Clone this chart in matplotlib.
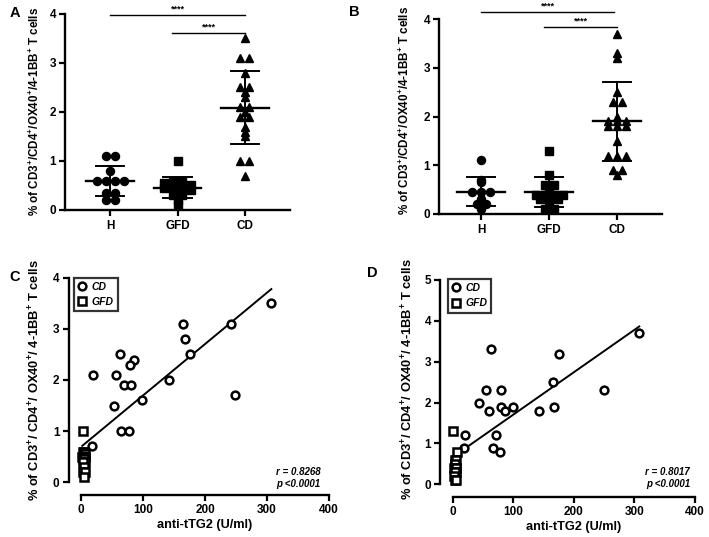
import numpy as np
import matplotlib
matplotlib.use("Agg")
import matplotlib.pyplot as plt

plt.rcParams['font.family'] = ['Liberation Sans', 'DejaVu Sans']
plt.rcParams['font.weight'] = 'bold'
plt.rcParams['mathtext.fontset'] = 'custom'
plt.rcParams['mathtext.rm'] = 'Liberation Sans:bold'
plt.rcParams['mathtext.bf'] = 'Liberation Sans:bold'
plt.rcParams['mathtext.it'] = 'Liberation Sans:bold:italic'

# ---------------- data ----------------
groups = ["H", "GFD", "CD"]

A_H = [1.1, 1.1, 0.8, 0.6, 0.6, 0.6, 0.6, 0.35, 0.35, 0.2, 0.2]
A_GFD = [1.0, 0.6, 0.6, 0.55, 0.5, 0.5, 0.5, 0.45, 0.45, 0.4, 0.4, 0.3, 0.3, 0.2, 0.1]
A_CD = [3.5, 3.1, 3.1, 2.8, 2.5, 2.5, 2.4, 2.3, 2.1, 2.1, 2.0, 1.9, 1.9,
        1.7, 1.6, 1.5, 1.0, 1.0, 0.7]

B_H = [1.1, 0.7, 0.65, 0.45, 0.45, 0.45, 0.3, 0.2, 0.2, 0.1]
B_GFD = [1.3, 0.8, 0.6, 0.6, 0.5, 0.4, 0.4, 0.4, 0.4, 0.3, 0.3, 0.3, 0.2, 0.1, 0.1]
B_CD = [3.7, 3.3, 3.2, 2.5, 2.3, 2.3, 2.0, 1.9, 1.9, 1.9, 1.8, 1.8, 1.8,
        1.5, 1.2, 1.2, 1.2, 0.9, 0.9, 0.8]

C_cd_tTG2 = [307, 164, 242, 167, 63, 175, 85, 79, 20, 57, 142, 69, 81, 54, 98, 249, 64, 77, 18]
C_cd_cells = [3.5, 3.1, 3.1, 2.8, 2.5, 2.5, 2.4, 2.3, 2.1, 2.1, 2.0, 1.9, 1.9, 1.5, 1.6, 1.7, 1.0, 1.0, 0.7]
C_gfd_tTG2 = [4, 3, 5, 6, 2, 4, 7, 3, 5, 6, 4, 5, 3, 6, 5]
C_gfd_cells = [1.0, 0.6, 0.6, 0.55, 0.5, 0.5, 0.5, 0.45, 0.45, 0.4, 0.4, 0.3, 0.2, 0.2, 0.1]

D_cd_tTG2 = [308, 64, 176, 166, 250, 55, 80, 43, 60, 80, 99, 86, 143, 168, 71, 21, 19, 66, 78]
D_cd_cells = [3.7, 3.3, 3.2, 2.5, 2.3, 2.3, 2.3, 2.0, 1.8, 1.9, 1.9, 1.8, 1.8, 1.9, 1.2, 1.2, 0.9, 0.9, 0.8]
D_gfd_tTG2 = [1, 7, 4, 6, 3, 5, 2, 4, 6, 3, 5, 4, 2, 3, 5]
D_gfd_cells = [1.3, 0.8, 0.6, 0.6, 0.5, 0.4, 0.4, 0.4, 0.4, 0.3, 0.3, 0.3, 0.2, 0.1, 0.1]

C_stats = "r = 0.8268\np <0.0001"
D_stats = "r = 0.8017\np <0.0001"

# ---------------- figure ----------------
W, H = 709, 537
fig = plt.figure(figsize=(W / 100, H / 100), dpi=100)


def axes_px(left, top, right, bottom):
    return fig.add_axes([left / W, 1 - bottom / H, (right - left) / W, (bottom - top) / H])


def style_axis(ax):
    for s in ['top', 'right']:
        ax.spines[s].set_visible(False)
    for s in ['left', 'bottom']:
        ax.spines[s].set_linewidth(1.7)
    ax.tick_params(direction='out', length=4.5, width=1.6, labelsize=8.5, pad=2)
    for lab in ax.get_xticklabels() + ax.get_yticklabels():
        lab.set_fontweight('bold')


def swarm_offsets(vals, ppu_y, ppu_x, dy=5.0, dx=9.0):
    # points falling in the same small band of values are spread symmetrically
    vals = np.asarray(vals, float)
    rows = np.floor(vals * ppu_y / dy + 0.5).astype(int)
    offs = np.zeros(len(vals))
    for r in np.unique(rows):
        idx = np.where(rows == r)[0]
        n = len(idx)
        offs[idx] = (np.arange(n) - (n - 1) / 2) * dx / ppu_x
    return offs


def dotplot(ax, data, markers, xlim, ylim, sigs):
    ax.set_xlim(*xlim)
    ax.set_ylim(*ylim)
    bb = ax.get_position()
    ppu_x = bb.width * W / (xlim[1] - xlim[0])
    ppu_y = bb.height * H / (ylim[1] - ylim[0])
    for i, (vals, m) in enumerate(zip(data, markers)):
        offs = swarm_offsets(vals, ppu_y, ppu_x)
        ms = 5.8 if m != '^' else 6.4
        ax.plot(i + offs, vals, linestyle='none', marker=m, color='black',
                markersize=ms, clip_on=False, zorder=3)
        mu = np.mean(vals)
        sd = np.std(vals, ddof=1)
        ax.plot([i - 0.35, i + 0.35], [mu, mu], color='black', lw=1.7, zorder=4)
        ax.plot([i, i], [mu - sd, mu + sd], color='black', lw=1.4, zorder=4)
        for yy in (mu - sd, mu + sd):
            ax.plot([i - 0.21, i + 0.21], [yy, yy], color='black', lw=1.4, zorder=4)
    for (a, b, yb) in sigs:
        ax.plot([a, b], [yb, yb], color='black', lw=1.0, clip_on=False)
        ax.text((a + b) / 2, yb + 0.02, "****", ha='center', va='bottom',
                fontsize=6.5, fontweight='bold', clip_on=False)
    ax.set_xticks(range(len(groups)))
    ax.set_xticklabels(groups)
    ax.set_yticks(range(int(ylim[1]) + 1))
    style_axis(ax)
    ax.tick_params(axis='x', labelsize=8.5, pad=3)


# Panel A
axA = axes_px(65, 14, 290, 210)
dotplot(axA, [A_H, A_GFD, A_CD], ['o', 's', '^'], (-0.667, 2.667), (0, 4),
        [(0, 2, 3.98), (0.92, 2, 3.62)])
# Panel B
axB = axes_px(439, 19, 662, 214)
dotplot(axB, [B_H, B_GFD, B_CD], ['o', 's', '^'], (-0.62, 2.66), (0, 4),
        [(0, 1.95, 4.15), (0.93, 2, 3.84)])


def scatter_panel(ax, cx, cy, gx, gy, ylim, stats, stats_pos, leg_anchor):
    ax.set_xlim(0, 400)
    ax.set_ylim(*ylim)
    ax.plot(cx, cy, linestyle='none', marker='o', mfc='white', mec='black',
            mew=1.8, markersize=5.6, clip_on=False, zorder=3, label='CD')
    ax.plot(gx, gy, linestyle='none', marker='s', mfc='white', mec='black',
            mew=1.8, markersize=5.6, clip_on=False, zorder=3, label='GFD')
    allx = np.concatenate([cx, gx]).astype(float)
    ally = np.concatenate([cy, gy]).astype(float)
    k, b = np.polyfit(allx, ally, 1)
    xs = np.array([allx.min(), allx.max()])
    ax.plot(xs, k * xs + b, color='black', lw=1.4, zorder=2)
    for s in ['left', 'bottom']:
        ax.spines[s].set_position(('outward', 9))
    ax.set_xticks([0, 100, 200, 300, 400])
    ax.set_yticks(range(int(ylim[1]) + 1))
    style_axis(ax)
    ax.set_xlabel("anti-tTG2 (U/ml)", fontsize=9.2, fontweight='bold', labelpad=2)
    ax.text(stats_pos[0], stats_pos[1], stats, transform=ax.transAxes, ha='right',
            va='center', multialignment='right', fontsize=7, fontweight='bold',
            fontstyle='italic', linespacing=1.25)
    leg = ax.legend(loc='upper left', bbox_to_anchor=leg_anchor, borderaxespad=0,
                    frameon=True, fancybox=False, handlelength=0.8, handletextpad=0.5,
                    borderpad=0.4, labelspacing=0.5,
                    prop={'size': 7.5, 'weight': 'bold', 'style': 'italic'})
    leg.get_frame().set_edgecolor('black')
    leg.get_frame().set_linewidth(1.6)


axC = axes_px(81, 277.7, 329, 482.3)
scatter_panel(axC, C_cd_tTG2, C_cd_cells, C_gfd_tTG2, C_gfd_cells, (0, 4),
              C_stats, (0.966, 0.02), (-0.028, 1.0))
axD = axes_px(452.7, 280, 695, 484.3)
scatter_panel(axD, D_cd_tTG2, D_cd_cells, D_gfd_tTG2, D_gfd_cells, (0, 5),
              D_stats, (0.979, 0.03), (-0.021, 1.005))

# y labels
lab1 = "% of CD3$^{+}$/CD4$^{+}$/OX40$^{+}$/4-1BB$^{+}$ T cells"
lab2 = "% of CD3$^{+}$/ CD4$^{+}$/ OX40$^{+}$/ 4-1BB$^{+}$ T cells"
fig.text(35 / W, 1 - 111 / H, lab1, rotation=90, ha='center', va='center',
         fontsize=8.4, fontweight='bold')
fig.text(405 / W, 1 - 110 / H, lab1, rotation=90, ha='center', va='center',
         fontsize=8.4, fontweight='bold')
fig.text(35 / W, 1 - 380 / H, lab2, rotation=90, ha='center', va='center',
         fontsize=9.3, fontweight='bold')
fig.text(408 / W, 1 - 379 / H, lab2, rotation=90, ha='center', va='center',
         fontsize=9.3, fontweight='bold')

# panel letters
for letter, (x, y) in zip("ABCD", [(15, 13), (354, 12), (15, 277), (372, 273)]):
    fig.text(x / W, 1 - y / H, letter, ha='center', va='center', fontsize=10.5,
             fontweight='bold')

fig.savefig("out.png", dpi=100)
